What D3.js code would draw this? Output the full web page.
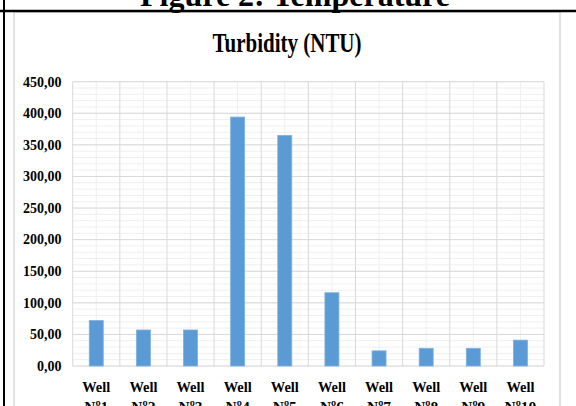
<!DOCTYPE html>
<html lang="en">
<head>
    <meta charset="UTF-8">
    <title>Turbidity (NTU)</title>
    <script src="https://cdn.jsdelivr.net/npm/d3@7"></script>
    <style>
      body { margin: 0; background: #fff; }
      svg text { font-family: "Liberation Serif", "DejaVu Serif", serif; font-weight: bold; fill: #000; }
      .grid-major { stroke: #d9d9d9; stroke-width: 1; }
      .grid-minor { stroke: #efefef; stroke-width: 1; }
      rect.bar { fill: #5b9bd5; stroke: #7fb0de; stroke-width: 0.8; }
    </style>
</head>
<body>
<div id="chart"></div>
<script>
// data
var wells = ["Nº1", "Nº2", "Nº3", "Nº4", "Nº5", "Nº6", "Nº7", "Nº8", "Nº9", "Nº10"];
var turbidity = [72, 57, 57, 394, 365, 116, 24, 28, 28, 41];
var yTicks = [0, 50, 100, 150, 200, 250, 300, 350, 400, 450];

var width = 576, height = 406;
var margins = {top: 81.7, right: 32, bottom: 40, left: 72.7};
var serif = "Liberation Serif, DejaVu Serif, serif";

var svg = d3.select("#chart").append("svg")
    .attr("width", width)
    .attr("height", height);

svg.append("rect").attr("width", width).attr("height", height).attr("fill", "#fff");

// outer figure frame + chart box
svg.append("rect")
    .attr("x", 14).attr("y", 12)
    .attr("width", 546).attr("height", 420)
    .attr("fill", "none").attr("stroke", "#d9d9d9").attr("stroke-width", 1.5);
svg.append("line").attr("x1", 0).attr("x2", width).attr("y1", 11).attr("y2", 11)
    .attr("stroke", "#000").attr("stroke-width", 2.5);
svg.append("line").attr("x1", 4).attr("x2", 4).attr("y1", 0).attr("y2", height)
    .attr("stroke", "#000").attr("stroke-width", 2);

svg.append("text")
    .attr("x", 295).attr("y", 6)
    .attr("text-anchor", "middle")
    .attr("font-family", serif)
    .style("font-size", "32px")
    .text("Figure 2: Temperature");

svg.append("text")
    .attr("x", 287).attr("y", 51.7)
    .attr("text-anchor", "middle")
    .attr("font-family", serif)
    .attr("textLength", 149).attr("lengthAdjust", "spacingAndGlyphs")
    .style("font-size", "27px")
    .text("Turbidity (NTU)");

var x = d3.scaleBand()
    .domain(wells)
    .range([margins.left, width - margins.right])
    .padding(0);

var y = d3.scaleLinear()
    .domain([0, 450])
    .range([366, margins.top]);

var locale = d3.formatLocale({decimal: ",", thousands: ".", grouping: [3], currency: ["", ""]});
var fmt = locale.format(".2f");

var g = svg.append("g");

// minor gridlines
g.selectAll("line.hminor").data(d3.range(0, 451, 10))
    .enter().append("line")
    .attr("class", "grid-minor")
    .attr("x1", x.range()[0]).attr("x2", x.range()[1])
    .attr("y1", d => y(d)).attr("y2", d => y(d));
g.selectAll("line.vminor").data(wells)
    .enter().append("line")
    .attr("class", "grid-minor")
    .attr("x1", d => x(d) + x.bandwidth() / 2).attr("x2", d => x(d) + x.bandwidth() / 2)
    .attr("y1", y(450)).attr("y2", y(0));

// major gridlines
g.selectAll("line.hmajor").data(yTicks)
    .enter().append("line")
    .attr("class", "grid-major")
    .attr("x1", x.range()[0]).attr("x2", x.range()[1])
    .attr("y1", d => y(d)).attr("y2", d => y(d));
g.selectAll("line.vmajor").data(wells.concat(["end"]))
    .enter().append("line")
    .attr("class", "grid-major")
    .attr("x1", (d, i) => x.range()[0] + i * x.bandwidth())
    .attr("x2", (d, i) => x.range()[0] + i * x.bandwidth())
    .attr("y1", y(450)).attr("y2", y(0));

// bars
var barW = 14;
g.selectAll("rect.bar").data(turbidity)
    .enter().append("rect")
    .attr("class", "bar")
    .attr("x", (d, i) => x(wells[i]) + x.bandwidth() / 2 - barW / 2)
    .attr("y", d => y(d))
    .attr("width", barW)
    .attr("height", d => y(0) - y(d));

// y labels
g.selectAll("text.ylab").data(yTicks)
    .enter().append("text")
    .attr("x", 61.5)
    .attr("y", d => y(d) + 4.8)
    .attr("text-anchor", "end")
    .attr("font-family", serif)
    .style("font-size", "14px")
    .text(d => fmt(d));

// x labels
var xl = g.selectAll("text.xlab").data(wells)
    .enter().append("text")
    .attr("text-anchor", "middle")
    .attr("font-family", serif)
    .style("font-size", "15.5px");
xl.append("tspan")
    .attr("x", d => x(d) + x.bandwidth() / 2).attr("y", 391.5)
    .attr("textLength", 28).attr("lengthAdjust", "spacingAndGlyphs")
    .text("Well");
xl.append("tspan")
    .attr("x", d => x(d) + x.bandwidth() / 2).attr("y", 411.5)
    .text(d => d);
</script>
</body>
</html>
